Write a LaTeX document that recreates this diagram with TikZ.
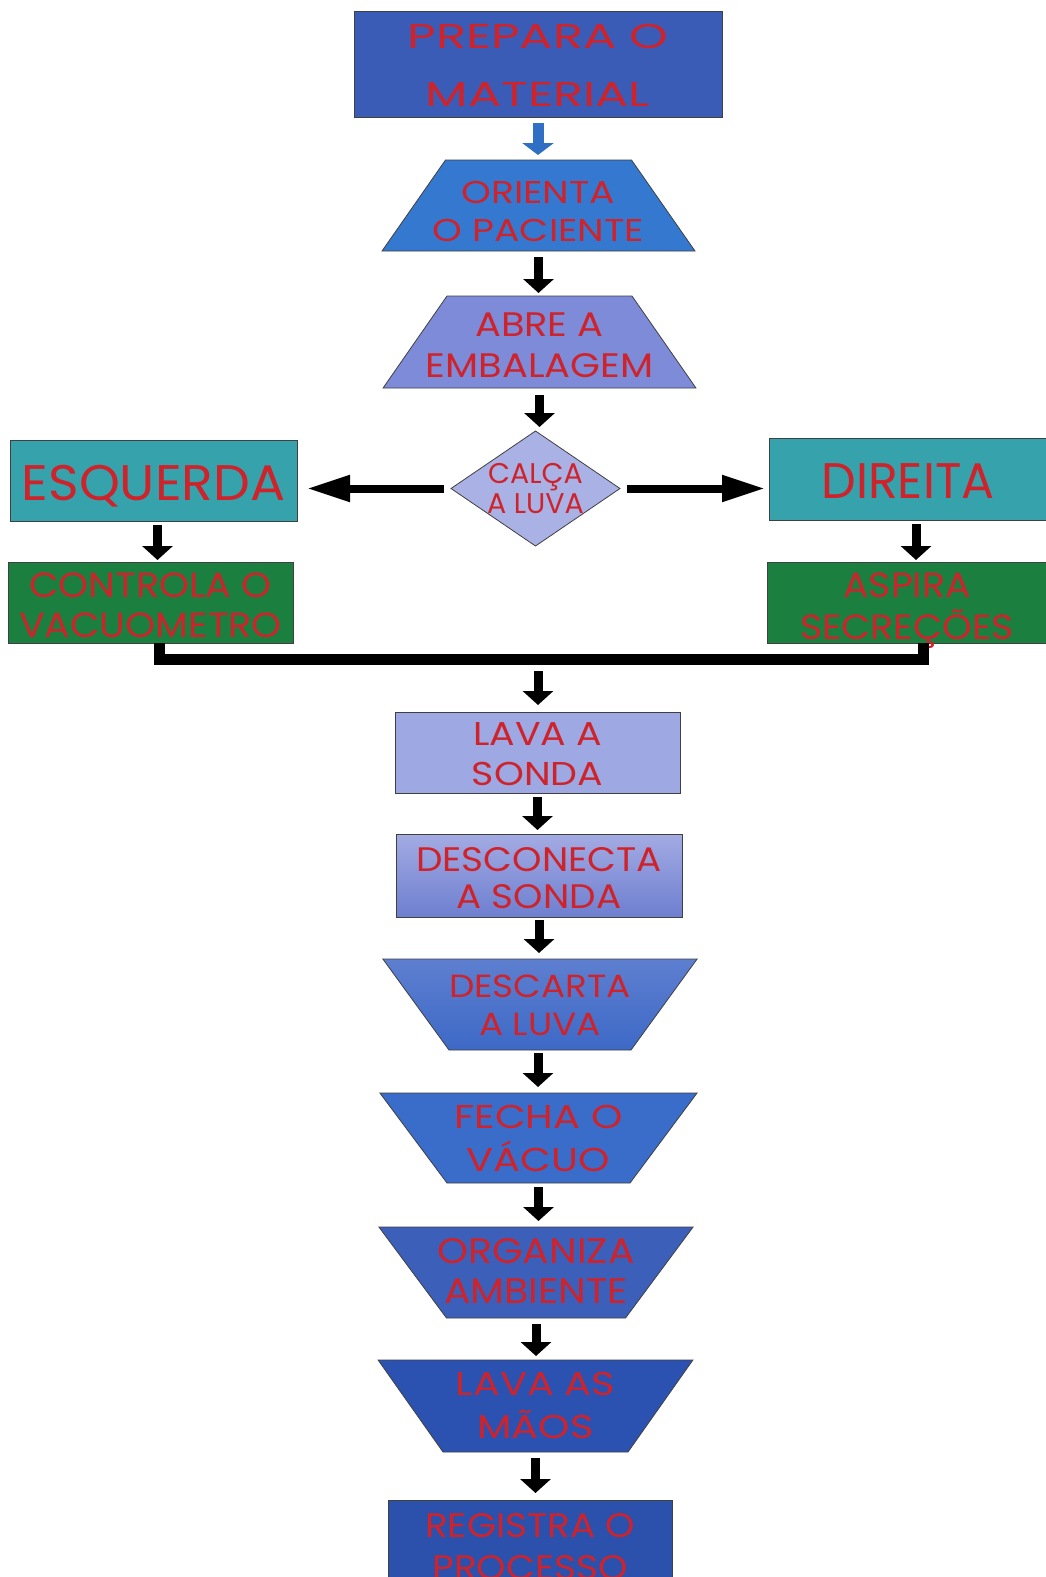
\documentclass[tikz,border=0pt]{standalone}
\usepackage{fontspec}
\setmainfont{Poppins}
\usepackage{graphicx}
\usetikzlibrary{arrows.meta,shapes.geometric}

\definecolor{txtred}{HTML}{CF232B}
\definecolor{prepblue}{HTML}{3B5CB6}
\definecolor{orientblue}{HTML}{3578CF}
\definecolor{abrelav}{HTML}{7D8BD9}
\definecolor{dialav}{HTML}{A9B1E5}
\definecolor{tealbox}{HTML}{35A2AC}
\definecolor{greenbox}{HTML}{1B7F3F}
\definecolor{lavalight}{HTML}{9EA8E2}
\definecolor{desctop}{HTML}{A3ABE3}
\definecolor{descbot}{HTML}{6E7FD0}
\definecolor{cartatop}{HTML}{5E7FD0}
\definecolor{cartabot}{HTML}{3D69C6}
\definecolor{fechablue}{HTML}{3A6CC9}
\definecolor{orgblue}{HTML}{3C5FBA}
\definecolor{maosblue}{HTML}{2C52B1}
\definecolor{regblue}{HTML}{2B51AD}
\definecolor{arrowblue}{HTML}{2F6FC4}

% two centred lines, horizontally scaled, inside a box of given width
\newcommand\twolinew[4]{\makebox[#1]{\scalebox{#2}[1]{\begin{tabular}[t]{@{}c@{}}#3\\#4\end{tabular}}}}
\newcommand\twoline[3]{\twolinew{0pt}{#1}{#2}{#3}}
\newcommand\oneline[2]{\makebox[0pt]{\scalebox{#1}[1]{#2}}}

\tikzset{
  box/.style={draw=black!75, line width=0.8pt, inner sep=0pt, outer sep=0pt, text=txtred},
  rbox/.style={box, rectangle},
  trap/.style={box, trapezium, trapezium angle=#1},
  trapdown/.style={trap=#1, shape border rotate=180},
  vflow/.style={line width=9pt, -{Triangle[width=30pt,length=14pt]}},
  hflow/.style={line width=8pt, -{Triangle[width=25pt,length=43pt]}},
  blueflow/.style={line width=11pt, arrowblue, -{Triangle[width=31pt,length=12pt]}},
  joinline/.style={line width=11pt, line join=miter},
}

\begin{document}
\begin{tikzpicture}[x=1pt, y=-1pt]
\fill[white] (0,0) rectangle (1046,1577);
\useasboundingbox (0,0) rectangle (1046,1577);

% main column, top part
\node[rbox, fill=prepblue, minimum width=368pt, minimum height=106pt,
      font=\fontsize{34.5}{58}\selectfont, text height=27pt, text depth=58pt]
  (prep) at (538,64) {\twoline{1.43}{PREPARA O}{MATERIAL}};

\node[trap=55.1, fill=orientblue,
      font=\fontsize{31.5}{37.5}\selectfont, text height=43.75pt, text depth=47.25pt]
  (orient) at (538.5,205.5) {\twolinew{186pt}{1.2}{ORIENTA}{O PACIENTE}};

\node[trap=55.2, fill=abrelav,
      font=\fontsize{34}{40.5}\selectfont, text height=40.75pt, text depth=51.25pt]
  (abre) at (539.5,342) {\twolinew{185pt}{1.13}{ABRE A}{EMBALAGEM}};

\node[box, diamond, fill=dialav, minimum width=169pt, minimum height=115pt,
      font=\fontsize{28.5}{30.5}\selectfont, text height=20pt, text depth=30.5pt]
  (calca) at (535.5,488.5) {\twoline{1.0}{CALÇA}{A LUVA}};

% the two branches
\node[rbox, fill=tealbox, minimum width=287pt, minimum height=81pt,
      font=\fontsize{50}{60}\selectfont, text height=39pt, text depth=0pt]
  (esq) at (153.5,480.5) {\oneline{1.04}{ESQUERDA}};

\node[rbox, fill=tealbox, minimum width=278pt, minimum height=82pt,
      font=\fontsize{50}{60}\selectfont, text height=39pt, text depth=0pt]
  (dir) at (908,479) {\oneline{0.98}{DIREITA}};

\node[rbox, fill=greenbox, minimum width=285pt, minimum height=81pt,
      font=\fontsize{35}{39.5}\selectfont, text height=29.5pt, text depth=39.5pt]
  (ctrl) at (150.5,602.5) {\twoline{1.09}{CONTROLA O}{VACUOMETRO}};

\node[rbox, fill=greenbox, minimum width=280pt, minimum height=81pt,
      font=\fontsize{35}{39.5}\selectfont, text height=29.5pt, text depth=39.5pt]
  (asp) at (907,602.5) {\twoline{1.08}{ASPIRA}{SECREÇÕES}};

% main column, lower part
\node[rbox, fill=lavalight, minimum width=285pt, minimum height=81pt,
      font=\fontsize{33}{40}\selectfont, text height=25pt, text depth=40pt]
  (lava) at (537.5,752.5) {\twoline{1.15}{LAVA A}{SONDA}};

\node[rbox, top color=desctop, bottom color=descbot, minimum width=286pt, minimum height=83pt,
      font=\fontsize{34}{37}\selectfont, text height=29pt, text depth=37pt]
  (descon) at (539,875.5) {\twoline{1.1}{DESCONECTA}{A SONDA}};

\node[trapdown=54, top color=cartatop, bottom color=cartabot,
      font=\fontsize{32}{37.5}\selectfont, text height=38.5pt, text depth=52.5pt]
  (descarta) at (540,1004.5) {\twolinew{182pt}{1.12}{DESCARTA}{A LUVA}};

\node[trapdown=53.3, fill=fechablue,
      font=\fontsize{33}{42}\selectfont, text height=35.5pt, text depth=54.5pt]
  (fecha) at (538.5,1138) {\twolinew{183pt}{1.21}{FECHA O}{VÁCUO}};

\node[trapdown=53.4, fill=orgblue,
      font=\fontsize{35.5}{40}\selectfont, text height=36pt, text depth=55pt]
  (organiza) at (536,1272.5) {\twolinew{179pt}{1.11}{ORGANIZA}{AMBIENTE}};

\node[trapdown=54.8, fill=maosblue,
      font=\fontsize{33}{43}\selectfont, text height=35pt, text depth=57pt]
  (maos) at (535.5,1406) {\twolinew{185pt}{1.21}{LAVA AS}{MÃOS}};

\node[rbox, fill=regblue, minimum width=284pt, minimum height=100pt,
      font=\fontsize{34}{42}\selectfont, text height=16pt, text depth=42pt]
  (reg) at (530,1550) {\twoline{1.1}{REGISTRA O}{PROCESSO}};

% connectors
\draw[blueflow, shorten <=6pt, shorten >=5pt] (prep.south) -- (prep.south |- orient.north);
\draw[vflow, shorten <=6pt, shorten >=3pt] (orient.south) -- (orient.south |- abre.north);
\draw[vflow, shorten <=7pt, shorten >=4pt] (abre.south) -- (abre.south |- calca.north);
\draw[hflow, shorten <=7pt, shorten >=10pt] (calca.west) -- (calca.west -| esq.east);
\draw[hflow, shorten <=7pt, shorten >=4pt] (calca.east) -- (calca.east -| dir.west);
\draw[vflow, shorten <=4pt, shorten >=2pt] ([xshift=4pt]esq.south) -- ([xshift=4pt]esq.south |- ctrl.north);
\draw[vflow, shorten <=4pt, shorten >=2pt] ([xshift=8pt]dir.south) -- ([xshift=8pt]dir.south |- asp.north);

\coordinate (merge) at (538,659.5);
\draw[joinline] ([xshift=8.5pt]ctrl.south) |- (merge) -| ([xshift=16pt]asp.south);
\draw[vflow, shorten <=11.5pt, shorten >=7pt] (merge) -- (merge |- lava.north);

\draw[vflow, shorten <=4pt, shorten >=4pt] (lava.south) -- (lava.south |- descon.north);
\draw[vflow, shorten <=3pt, shorten >=6pt] (descon.south) -- (descon.south |- descarta.north);
\draw[vflow, shorten <=3pt, shorten >=6pt] ([xshift=-2pt]descarta.south) -- ([xshift=-2pt]descarta.south |- fecha.north);
\draw[vflow, shorten <=4pt, shorten >=6pt] (fecha.south) -- (fecha.south |- organiza.north);
\draw[vflow, shorten <=6pt, shorten >=4pt] (organiza.south) -- (organiza.south |- maos.north);
\draw[vflow, shorten <=6pt, shorten >=7pt] (maos.south) -- (maos.south |- reg.north);
\end{tikzpicture}
\end{document}
